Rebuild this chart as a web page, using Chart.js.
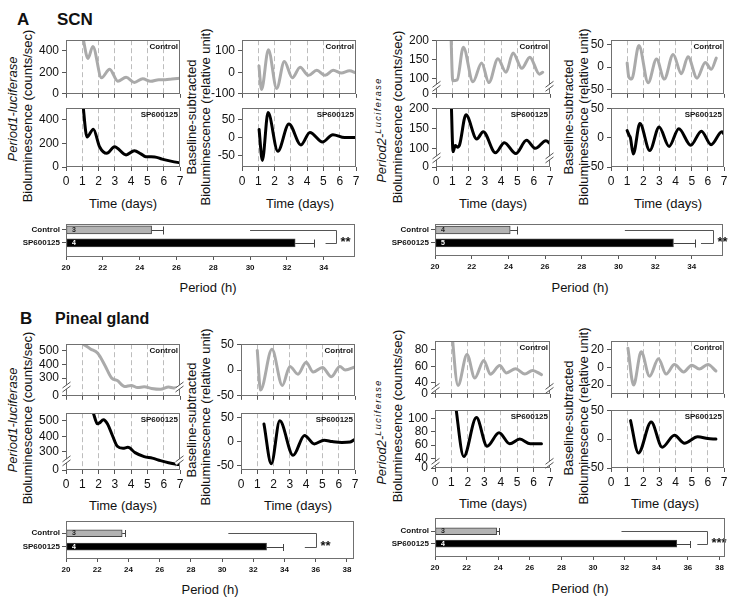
<!DOCTYPE html>
<html>
<head>
<meta charset="utf-8">
<title>SP600125 – Period1/Period2 bioluminescence</title>
<script src="https://cdn.jsdelivr.net/npm/chart.js@4.4.1/dist/chart.umd.min.js"></script>
<style>
  body { margin: 0; width: 750px; height: 603px; position: relative; overflow: hidden; background: #fff;
         font-family: "Liberation Sans", Arial, sans-serif; color: #111; }
  canvas { position: absolute; }
  .lbl { position: absolute; white-space: nowrap; line-height: 1; }
  .rot { transform: translate(-50%, -50%) rotate(-90deg); font-size: 13px; }
  .ctr { transform: translate(-50%, -50%); font-size: 13px; }
  .sup { font-size: 9px; vertical-align: super; letter-spacing: 1.5px; }
</style>
</head>
<body>
<div class="lbl" style="left:17px;top:11px;font-size:17px;font-weight:bold">A</div>
<div class="lbl" style="left:57px;top:11px;font-size:17px;font-weight:bold">SCN</div>
<div class="lbl" style="left:20px;top:310px;font-size:17px;font-weight:bold">B</div>
<div class="lbl" style="left:55px;top:311px;font-size:16px;font-weight:bold">Pineal gland</div>

<!-- y titles, panel A -->
<div class="lbl rot" style="left:12px;top:109px"><i>Period1-luciferase</i></div>
<div class="lbl rot" style="left:27px;top:116px">Bioluminescence (counts/sec)</div>
<div class="lbl rot" style="left:191px;top:117px">Baseline-subtracted</div>
<div class="lbl rot" style="left:205px;top:117px">Bioluminescence (relative unit)</div>
<div class="lbl rot" style="left:381px;top:130px"><i>Period2-</i><i class="sup">Luciferase</i></div>
<div class="lbl rot" style="left:397px;top:117px">Bioluminescence (counts/sec)</div>
<div class="lbl rot" style="left:568px;top:117px">Baseline-subtracted</div>
<div class="lbl rot" style="left:583px;top:117px">Bioluminescence (relative unit)</div>

<!-- y titles, panel B -->
<div class="lbl rot" style="left:12px;top:420px"><i>Period1-luciferase</i></div>
<div class="lbl rot" style="left:27px;top:418px">Bioluminescence (counts/sec)</div>
<div class="lbl rot" style="left:191px;top:420px">Baseline-subtracted</div>
<div class="lbl rot" style="left:205px;top:417px">Bioluminescence (relative unit)</div>
<div class="lbl rot" style="left:381px;top:432px"><i>Period2-</i><i class="sup">Luciferase</i></div>
<div class="lbl rot" style="left:397px;top:416px">Bioluminescence (counts/sec)</div>
<div class="lbl rot" style="left:568px;top:418px">Baseline-subtracted</div>
<div class="lbl rot" style="left:583px;top:416px">Bioluminescence (relative unit)</div>

<!-- x titles -->
<div class="lbl ctr" style="left:123px;top:203px">Time (days)</div>
<div class="lbl ctr" style="left:300px;top:203px">Time (days)</div>
<div class="lbl ctr" style="left:493px;top:203px">Time (days)</div>
<div class="lbl ctr" style="left:668px;top:203px">Time (days)</div>
<div class="lbl ctr" style="left:123px;top:505px">Time (days)</div>
<div class="lbl ctr" style="left:298px;top:505px">Time (days)</div>
<div class="lbl ctr" style="left:493px;top:503px">Time (days)</div>
<div class="lbl ctr" style="left:665px;top:503px">Time (days)</div>
<div class="lbl ctr" style="left:208px;top:287px">Period (h)</div>
<div class="lbl ctr" style="left:580px;top:287px">Period (h)</div>
<div class="lbl ctr" style="left:210px;top:589px">Period (h)</div>
<div class="lbl ctr" style="left:580px;top:588px">Period (h)</div>

<script>
// ---- data: [day, value] ----
const dayTicks = [0, 1, 2, 3, 4, 5, 6, 7];
const groups = ["Control", "SP600125"];

// A: SCN, Period1-luciferase (raw counts/sec)
const scnP1Ctrl = [[1.02,540],[1.35,330],[1.65,442],[2.18,150],[2.68,230],[3.18,118],[3.69,155],[4.2,106],[4.71,140],[5.2,117],[5.7,132],[6.1,131],[6.5,138],[7.0,146]];
const scnP1Sp = [[1.02,560],[1.29,255],[1.68,322],[2.06,172],[2.5,116],[2.98,172],[3.69,103],[4.2,139],[4.6,112],[4.9,88],[5.45,86],[5.9,67],[6.5,48],[7.0,35]];
// A: SCN, Period1 baseline-subtracted
const scnP1CtrlDetr = [[1.04,30],[1.2,-80],[1.62,106],[2.13,-75],[2.6,51],[3.09,-25],[3.57,24],[4.08,-14],[4.59,10],[5.1,-14],[5.6,10],[6.1,-3],[6.6,7],[7.0,-3]];
const scnP1SpDetr = [[1.05,22],[1.25,-62],[1.6,68],[2.2,-37],[2.88,37],[3.62,-20],[4.17,14],[4.95,-12],[5.58,8],[6.3,0],[7.0,0]];
// A: SCN, Period2-luciferase (raw)
const scnP2Ctrl = [[0.9,240],[1.03,95],[1.3,97],[1.68,182],[2.27,92],[2.8,141],[3.25,90],[3.8,152],[4.3,117],[4.73,167],[5.27,127],[5.76,156],[6.35,112],[6.55,117]];
const scnP2Sp = [[0.92,240],[1.05,93],[1.18,108],[1.32,104],[1.45,110],[1.84,184],[2.5,124],[2.9,142],[3.65,90],[4.2,115],[4.9,88],[5.56,121],[6.1,101],[6.75,120],[7.0,113]];
// A: SCN, Period2 baseline-subtracted
const scnP2CtrlDetr = [[1.0,9],[1.1,-22],[1.28,-27],[1.73,48],[2.3,-35],[2.82,18],[3.3,-27],[3.85,28],[4.36,-15],[4.77,23],[5.33,-25],[5.84,10],[6.21,-5],[6.52,20]];
const scnP2SpDetr = [[1.0,12],[1.12,4],[1.2,0],[1.38,-28],[1.79,24],[2.4,-22],[2.98,18],[3.6,-15],[4.2,15],[4.94,-13],[5.6,11],[6.2,-12],[6.87,10],[7.0,6]];

// B: pineal gland, Period1-luciferase (raw)
const pinP1Ctrl = [[1.07,545],[1.5,511],[1.95,480],[2.4,390],[2.8,302],[3.15,283],[3.6,240],[4.0,248],[4.4,232],[4.8,238],[5.25,226],[5.8,220],[6.3,236],[6.6,230],[7.0,232]];
const pinP1Sp = [[1.68,550],[1.93,481],[2.05,486],[2.3,508],[2.55,480],[2.85,405],[3.15,335],[3.5,322],[3.8,328],[4.24,294],[4.8,268],[5.3,258],[5.8,242],[6.3,228],[6.8,218],[7.0,215]];
// B: pineal, Period1 baseline-subtracted
const pinP1CtrlDetr = [[1.0,38],[1.2,-39],[1.9,40],[2.54,-30],[3.0,7],[3.5,-8],[4.0,15],[4.43,-4],[5.0,5],[5.55,-13],[6.07,7],[6.4,0],[7.0,6]];
const pinP1SpDetr = [[1.41,37],[1.86,-47],[2.38,44],[3.2,-29],[3.9,13],[4.5,-5],[5.1,3],[5.6,0],[6.2,-2],[6.7,-1],[7.0,5]];
// B: pineal, Period2-luciferase (raw)
const pinP2Ctrl = [[0.98,110],[1.4,37],[1.95,74],[2.42,46],[2.97,67],[3.37,50.5],[3.94,61],[4.35,52],[4.9,57],[5.47,50.6],[5.93,55],[6.48,50]];
const pinP2Sp = [[1.22,125],[1.75,43],[2.52,101],[3.17,58.5],[3.9,78.5],[4.55,62],[5.16,69],[5.8,62],[6.48,62]];
// B: pineal, Period2 baseline-subtracted
const pinP2CtrlDetr = [[1.05,22],[1.4,-20],[1.87,18],[2.39,-10],[2.94,10],[3.42,-7.5],[3.93,3.3],[4.5,-5],[5.0,2.7],[5.47,-1.7],[6.0,3.3],[6.5,-4]];
const pinP2SpDetr = [[1.21,32],[1.7,-24],[2.49,29.5],[3.17,-14],[3.93,6.5],[4.55,-7],[5.37,4],[6.0,1],[6.5,0]];

// period bar charts: mean, error, n per group
const scnP1Period = [24.65, 32.45], scnP1Err = [0.6, 1.0], scnP1N = [3, 4];
const scnP2Period = [24.1, 33.0],  scnP2Err = [0.35, 1.2], scnP2N = [4, 5];
const pinP1Period = [23.6, 32.85], pinP1Err = [0.2, 1.05], pinP1N = [3, 4];
const pinP2Period = [23.9, 35.3],  pinP2Err = [0.15, 0.85], pinP2N = [3, 4];
const periodTicksA = [20, 22, 24, 26, 28, 30, 32, 34];
const periodTicksB = [20, 22, 24, 26, 28, 30, 32, 34, 36, 38];

const GRAY = '#aaaaaa', BLACK = '#000000';
const FONT = '"Liberation Sans", Arial, sans-serif';
Chart.defaults.font.family = FONT;
Chart.defaults.color = '#111';

function makeCanvas(left, top, w, h) {
  const c = document.createElement('canvas');
  c.width = w; c.height = h;
  c.style.left = left + 'px'; c.style.top = top + 'px';
  c.style.width = w + 'px'; c.style.height = h + 'px';
  document.body.appendChild(c);
  return c;
}

function drawFrame(chart) {
  const ctx = chart.ctx, a = chart.chartArea;
  const L = Math.round(a.left), T = Math.round(a.top), R = Math.round(a.right), B = Math.round(a.bottom);
  ctx.save();
  ctx.strokeStyle = '#707070'; ctx.lineWidth = 1;
  ctx.strokeRect(L + 0.5, T + 0.5, R - L - 1, B - T - 1);
  ctx.restore();
  return [L, T, R, B];
}

// frame, axis break marks and the group tag
const deco = {
  id: 'deco',
  afterDraw(chart, args, o) {
    const [L, T, R] = drawFrame(chart);
    const ctx = chart.ctx;
    ctx.save();
    if (o.brk != null) {
      const y = chart.scales.y.getPixelForValue(o.brk);
      [L + 0.5, R - 0.5].forEach(x => {
        ctx.strokeStyle = '#fff'; ctx.lineWidth = 3;
        ctx.beginPath(); ctx.moveTo(x - 4, y + 3); ctx.lineTo(x + 4, y - 3); ctx.stroke();
        ctx.strokeStyle = '#555'; ctx.lineWidth = 1;
        [-2, 2].forEach(d => {
          ctx.beginPath(); ctx.moveTo(x - 4, y + 3 + d); ctx.lineTo(x + 4, y - 3 + d); ctx.stroke();
        });
      });
    }
    if (o.tag) {
      ctx.fillStyle = '#111';
      ctx.font = 'bold 8px ' + FONT;
      ctx.textAlign = 'right'; ctx.textBaseline = 'top';
      ctx.fillText(o.tag, R - 2, T + 3);
    }
    ctx.restore();
  }
};

function lineChart(s) {
  const [L, T, R, B] = s.box;
  const padL = 42, padT = 8, padR = 10, padB = s.showX ? 24 : 6;
  const c = makeCanvas(L - padL, T - padT, R - L + padL + padR, B - T + padT + padB);
  let brk = null;
  if (s.labels[0] === '0' && s.ticks[0] !== 0) brk = (s.ticks[0] + s.ticks[1]) / 2;
  new Chart(c, {
    type: 'line',
    data: {
      datasets: [{
        data: s.pts.map(p => ({ x: p[0], y: p[1] })),
        borderColor: s.color, borderWidth: 3, pointRadius: 0,
        cubicInterpolationMode: 'monotone', fill: false, clip: 0,
        borderCapStyle: 'round', borderJoinStyle: 'round'
      }]
    },
    options: {
      responsive: false, animation: false, devicePixelRatio: 1, events: [],
      layout: { padding: { left: 0, top: padT, right: padR, bottom: 0 } },
      plugins: { legend: { display: false }, tooltip: { enabled: false }, deco: { tag: s.tag, brk: brk } },
      scales: {
        x: {
          type: 'linear', min: 0, max: 7, offset: false,
          afterBuildTicks: ax => { ax.ticks = dayTicks.map(v => ({ value: v })); },
          afterFit: ax => { ax.height = padB; },
          ticks: { display: s.showX, autoSkip: false, maxRotation: 0, font: { size: 12 }, padding: 3 },
          grid: {
            color: g => (g.tick && g.tick.value > 0 && g.tick.value < 7) ? '#bdbdbd' : 'rgba(0,0,0,0)',
            lineWidth: 1, tickColor: '#555', tickLength: 4
          },
          border: { display: false, dash: [5, 3] }
        },
        y: {
          type: 'linear', min: s.min, max: s.max, offset: false,
          afterBuildTicks: ax => { ax.ticks = s.ticks.map(v => ({ value: v })); },
          afterFit: ax => { ax.width = padL; },
          ticks: { callback: v => s.labels[s.ticks.indexOf(v)], autoSkip: false, font: { size: 12 }, padding: 3 },
          grid: { drawOnChartArea: false, tickColor: '#555', tickLength: 4 },
          border: { display: false }
        }
      }
    },
    plugins: [deco]
  });
}

// error bars, n, significance bracket
const barDeco = {
  id: 'barDeco',
  afterDatasetsDraw(chart, args, o) {
    const ctx = chart.ctx, xs = chart.scales.x, ys = chart.scales.y;
    ctx.save();
    ctx.lineWidth = 1;
    o.means.forEach((m, i) => {
      const y = Math.round(ys.getPixelForValue(i)) + 0.5;
      const x1 = xs.getPixelForValue(m);
      const x2 = Math.round(xs.getPixelForValue(m + o.errs[i])) + 0.5;
      ctx.strokeStyle = '#444';
      ctx.beginPath(); ctx.moveTo(x1, y); ctx.lineTo(x2, y);
      ctx.moveTo(x2, y - o.thick / 2); ctx.lineTo(x2, y + o.thick / 2); ctx.stroke();
      ctx.fillStyle = i === 0 ? '#222' : '#fff';
      ctx.font = 'bold 7px ' + FONT;
      ctx.textAlign = 'left'; ctx.textBaseline = 'middle';
      ctx.fillText(String(o.ns[i]), xs.getPixelForValue(20) + 6, y);
    });
    const [a, b, c, stars] = o.sig;
    const y0 = Math.round(ys.getPixelForValue(0)) + 0.5, y1 = Math.round(ys.getPixelForValue(1)) + 0.5;
    const xb = Math.round(xs.getPixelForValue(b)) + 0.5;
    ctx.strokeStyle = '#555';
    ctx.beginPath();
    ctx.moveTo(xs.getPixelForValue(a), y0); ctx.lineTo(xb, y0); ctx.lineTo(xb, y1); ctx.lineTo(xs.getPixelForValue(c), y1);
    ctx.stroke();
    ctx.fillStyle = '#111';
    ctx.font = 'bold 13px ' + FONT;
    ctx.textAlign = 'left'; ctx.textBaseline = 'alphabetic';
    ctx.fillText(stars, xb + 4, (y0 + y1) / 2 + 9);
    ctx.restore();
  },
  afterDraw(chart) { drawFrame(chart); }
};

function barChart(s) {
  const [L, T, R, B] = s.box;
  const padL = 62, padT = 6, padR = 34, padB = 20;
  const c = makeCanvas(L - padL, T - padT, R - L + padL + padR, B - T + padT + padB);
  new Chart(c, {
    type: 'bar',
    data: {
      datasets: [{
        data: s.means.map((m, i) => ({ x: m, y: i })),
        backgroundColor: ['#b3b3b3', '#000000'], borderColor: '#444', borderWidth: 1,
        borderSkipped: false, barThickness: s.thick, base: 20
      }]
    },
    options: {
      indexAxis: 'y', responsive: false, animation: false, devicePixelRatio: 1, events: [],
      layout: { padding: { left: 0, top: padT, right: padR, bottom: 0 } },
      plugins: {
        legend: { display: false }, tooltip: { enabled: false },
        barDeco: { means: s.means, errs: s.errs, ns: s.ns, sig: s.sig, thick: s.thick }
      },
      scales: {
        x: {
          type: 'linear', min: 20, max: s.xMax, offset: false,
          afterBuildTicks: ax => { ax.ticks = s.xTicks.map(v => ({ value: v })); },
          afterFit: ax => { ax.height = padB; },
          ticks: { autoSkip: false, maxRotation: 0, font: { size: 8, weight: 'bold' }, padding: 3 },
          grid: { drawOnChartArea: false, tickColor: '#555', tickLength: 3, offset: false },
          border: { display: false }
        },
        y: {
          type: 'linear', reverse: true, min: s.yMin, max: s.yMax, offset: false,
          afterBuildTicks: ax => { ax.ticks = [0, 1].map(v => ({ value: v })); },
          afterFit: ax => { ax.width = padL; },
          ticks: { callback: v => groups[v], autoSkip: false, font: { size: 8, weight: 'bold' }, padding: 2 },
          grid: { drawOnChartArea: false, tickColor: '#555', tickLength: 4, offset: false },
          border: { display: false }
        }
      }
    },
    plugins: [barDeco]
  });
}

const n = (arr) => arr.map(String);

// panel A line charts
lineChart({ box: [66, 38, 180, 98],   pts: scnP1Ctrl, color: GRAY,  ticks: [0, 200, 400], labels: n([0, 200, 400]), min: 0, max: 500, tag: 'Control', showX: false });
lineChart({ box: [66, 106, 180, 167], pts: scnP1Sp,   color: BLACK, ticks: [0, 200, 400], labels: n([0, 200, 400]), min: 0, max: 500, tag: 'SP600125', showX: true });
lineChart({ box: [242, 38, 356, 98],   pts: scnP1CtrlDetr, color: GRAY,  ticks: [-100, 0, 100], labels: n([-100, 0, 100]), min: -100, max: 150, tag: 'Control', showX: false });
lineChart({ box: [242, 106, 356, 167], pts: scnP1SpDetr,   color: BLACK, ticks: [-50, 0, 50], labels: n([-50, 0, 50]), min: -80, max: 80, tag: 'SP600125', showX: true });
lineChart({ box: [436, 38, 550, 98],   pts: scnP2Ctrl, color: GRAY,  ticks: [61, 100, 150, 200], labels: n([0, 100, 150, 200]), min: 61, max: 200, tag: 'Control', showX: false });
lineChart({ box: [436, 106, 550, 167], pts: scnP2Sp,   color: BLACK, ticks: [55, 100, 150, 200], labels: n([0, 100, 150, 200]), min: 55, max: 200, tag: 'SP600125', showX: true });
lineChart({ box: [611, 38, 724, 98],   pts: scnP2CtrlDetr, color: GRAY,  ticks: [-50, 0, 50], labels: n([-50, 0, 50]), min: -60, max: 60, tag: 'Control', showX: false });
lineChart({ box: [611, 106, 724, 167], pts: scnP2SpDetr,   color: BLACK, ticks: [-50, 0, 50], labels: n([-50, 0, 50]), min: -50, max: 50, tag: 'SP600125', showX: true });

// panel B line charts
lineChart({ box: [66, 342, 180, 400], pts: pinP1Ctrl, color: GRAY,  ticks: [173, 300, 400, 500], labels: n([0, 300, 400, 500]), min: 173, max: 545, tag: 'Control', showX: false });
lineChart({ box: [66, 411, 180, 470], pts: pinP1Sp,   color: BLACK, ticks: [181, 300, 400, 500], labels: n([0, 300, 400, 500]), min: 181, max: 550, tag: 'SP600125', showX: true });
lineChart({ box: [241, 342, 355, 400], pts: pinP1CtrlDetr, color: GRAY,  ticks: [-50, 0, 50], labels: n([-50, 0, 50]), min: -50, max: 50, tag: 'Control', showX: false });
lineChart({ box: [241, 411, 355, 470], pts: pinP1SpDetr,   color: BLACK, ticks: [-50, 0, 50], labels: n([-50, 0, 50]), min: -60, max: 60, tag: 'SP600125', showX: true });
lineChart({ box: [435, 339, 550, 398], pts: pinP2Ctrl, color: GRAY,  ticks: [27, 40, 60, 80], labels: n([0, 40, 60, 80]), min: 27, max: 90, tag: 'Control', showX: false });
lineChart({ box: [435, 408, 550, 468], pts: pinP2Sp,   color: BLACK, ticks: [26, 40, 60, 80, 100], labels: n([0, 40, 60, 80, 100]), min: 26, max: 112, tag: 'SP600125', showX: true });
lineChart({ box: [611, 339, 724, 398], pts: pinP2CtrlDetr, color: GRAY,  ticks: [-20, 0, 20], labels: n([-20, 0, 20]), min: -30, max: 30, tag: 'Control', showX: false });
lineChart({ box: [611, 408, 724, 468], pts: pinP2SpDetr,   color: BLACK, ticks: [-50, 0, 50], labels: n([-50, 0, 50]), min: -50, max: 50, tag: 'SP600125', showX: true });

// period bar charts
barChart({ box: [66, 223, 355, 257],  means: scnP1Period, errs: scnP1Err, ns: scnP1N, xMax: 35.7,  xTicks: periodTicksA, yMin: -0.47, yMax: 2.09, thick: 8, sig: [30.0, 34.65, 34.1, '**'] });
barChart({ box: [435, 223, 723, 256], means: scnP2Period, errs: scnP2Err, ns: scnP2N, xMax: 35.7,  xTicks: periodTicksA, yMin: -0.48, yMax: 2.02, thick: 8, sig: [30.35, 35.15, 34.5, '**'] });
barChart({ box: [66, 520, 354, 559],  means: pinP1Period, errs: pinP1Err, ns: pinP1N, xMax: 38.45, xTicks: periodTicksB, yMin: -0.93, yMax: 1.93, thick: 7, sig: [30.4, 36.0, 35.3, '**'] });
barChart({ box: [435, 517, 725, 557], means: pinP2Period, errs: pinP2Err, ns: pinP2N, xMax: 38.35, xTicks: periodTicksB, yMin: -1.08, yMax: 2.07, thick: 7, sig: [31.8, 37.2, 36.6, '***'] });
</script>
</body>
</html>
